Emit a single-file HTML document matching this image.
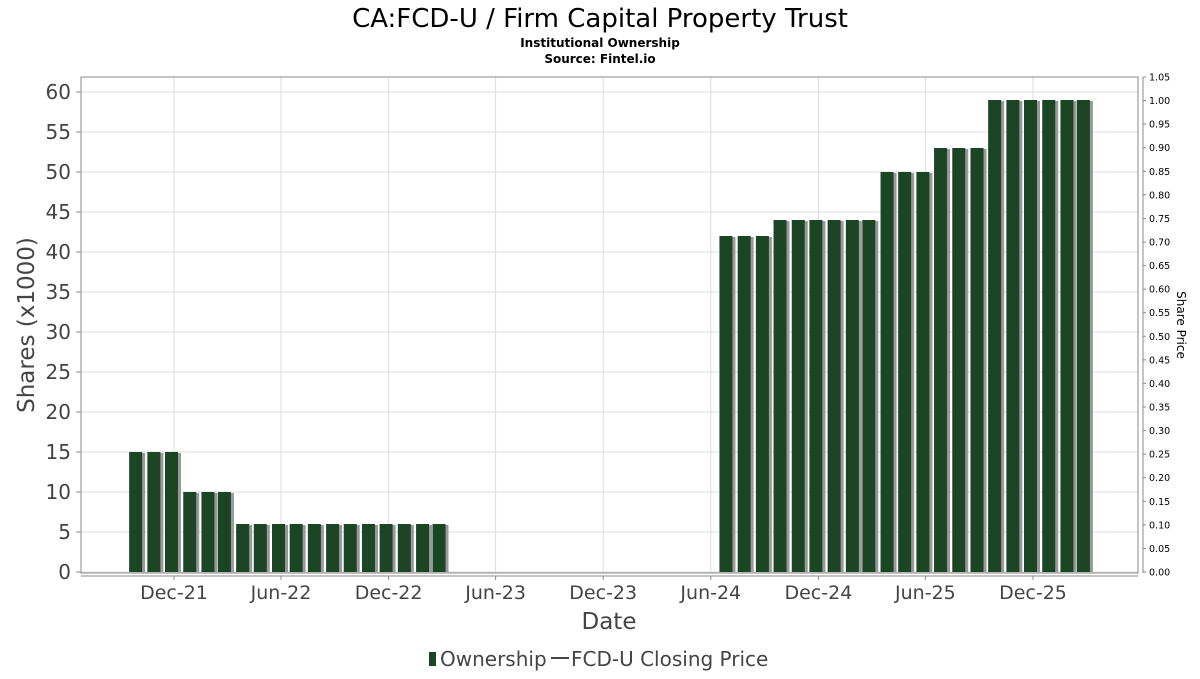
<!DOCTYPE html>
<html><head><meta charset="utf-8"><style>
body{margin:0;background:#fff;width:1200px;height:675px;overflow:hidden;font-family:"DejaVu Sans","Liberation Sans",sans-serif}
</style></head><body>
<svg id="chart" width="1200" height="675" xmlns="http://www.w3.org/2000/svg" font-family="DejaVu Sans, Liberation Sans, sans-serif">
<text x="600" y="27" text-anchor="middle" font-size="26" fill="#000">CA:FCD-U / Firm Capital Property Trust</text>
<text x="600" y="47" text-anchor="middle" font-size="12" font-weight="bold" fill="#000">Institutional Ownership</text>
<text x="600" y="63" text-anchor="middle" font-size="12" font-weight="bold" fill="#000">Source: Fintel.io</text>
<g id="grid"></g>
<g id="bars"></g>
<rect x="81" y="77" width="1057" height="496" fill="none" stroke="#888"/>
<line x1="81" y1="576" x2="1138" y2="576" stroke="#888"/>
<line x1="1143" y1="77" x2="1143" y2="573" stroke="#888"/>
<g id="axes"></g>
<text transform="translate(34,325) rotate(-90)" text-anchor="middle" font-size="23" fill="#444">Shares (x1000)</text>
<text transform="translate(1177,325) rotate(90)" text-anchor="middle" font-size="12" fill="#000">Share Price</text>
<text x="609" y="629" text-anchor="middle" font-size="23" fill="#444">Date</text>
<g>
<rect x="429" y="652" width="7" height="14" fill="#1b4524"/>
<text x="440" y="666" font-size="20" fill="#444">Ownership</text>
<line x1="551" y1="658" x2="569" y2="658" stroke="#444" stroke-width="2"/>
<text x="571" y="666" font-size="20" fill="#444">FCD-U Closing Price</text>
</g>
</svg>
<script>
const dates1 = ["2021-10-01","2021-11-01","2021-12-01","2022-01-01","2022-02-01","2022-03-01","2022-04-01","2022-05-01","2022-06-01","2022-07-01","2022-08-01","2022-09-01","2022-10-01","2022-11-01","2022-12-01","2023-01-01","2023-02-01","2023-03-01"];
const values1 = [15,15,15,10,10,10,6,6,6,6,6,6,6,6,6,6,6,6];
const dates2 = ["2024-07-01","2024-08-01","2024-09-01","2024-10-01","2024-11-01","2024-12-01","2025-01-01","2025-02-01","2025-03-01","2025-04-01","2025-05-01","2025-06-01","2025-07-01","2025-08-01","2025-09-01","2025-10-01","2025-11-01","2025-12-01","2026-01-01","2026-02-01","2026-03-01"];
const values2 = [42,42,42,44,44,44,44,44,44,50,50,50,53,53,53,59,59,59,59,59,59];
const xTickLabels = ["Dec-21","Jun-22","Dec-22","Jun-23","Dec-23","Jun-24","Dec-24","Jun-25","Dec-25"];
const xTickDates = ["2021-12-01","2022-06-01","2022-12-01","2023-06-01","2023-12-01","2024-06-01","2024-12-01","2025-06-01","2025-12-01"];
const yTicks = [0,5,10,15,20,25,30,35,40,45,50,55,60];
const y2Ticks = [0,0.05,0.1,0.15,0.2,0.25,0.3,0.35,0.4,0.45,0.5,0.55,0.6,0.65,0.7,0.75,0.8,0.85,0.9,0.95,1.0,1.05];

const NS="http://www.w3.org/2000/svg";
const t0=Date.parse("2021-12-01"), t1=Date.parse("2025-12-01");
function x(d){return 174+(Date.parse(d)-t0)/(t1-t0)*(1033-174);}
function y(v){return 572-v*8;}
function y2(v){return 572-v/1.05*495;}
function mk(tag,attrs,parent){const e=document.createElementNS(NS,tag);for(const k in attrs)e.setAttribute(k,attrs[k]);parent.appendChild(e);return e;}
const grid=document.getElementById('grid'),bars=document.getElementById('bars'),axes=document.getElementById('axes');
yTicks.forEach(v=>{
  const l=mk('line',{x1:81,x2:1138,y1:y(v),y2:y(v),stroke:'#ddd'},grid);
  
  
  const t=mk('text',{x:71,y:y(v)+7,'text-anchor':'end','font-size':20,fill:'#444'},axes);
  t.textContent=v;
  
  
  mk('line',{x1:76,x2:81,y1:y(v),y2:y(v),stroke:'#888'},axes);
});
y2Ticks.forEach(v=>{
  mk('line',{x1:1143,x2:1146,y1:y2(v),y2:y2(v),stroke:'#888'},axes);
  const t=mk('text',{x:1149,y:y2(v)+3.5,'font-size':9.5,fill:'#000'},axes);
  t.textContent=v.toFixed(2);
  
  
});
xTickDates.forEach((d,i)=>{
  const xx=x(d);
  const l=mk('line',{x1:xx,x2:xx,y1:77,y2:573,stroke:'#ddd'},grid);
  
  
  mk('line',{x1:xx,x2:xx,y1:576,y2:580,stroke:'#888'},axes);
  const t=mk('text',{x:xx,y:599,'text-anchor':'middle','font-size':19,fill:'#444'},axes);
  t.textContent=xTickLabels[i];
  
  
});
function drawBars(ds,vs){
  ds.forEach((d,i)=>{
    const cx=x(d), top=y(vs[i]);
    const s=mk('rect',{x:cx-6,y:top+1,width:13,height:572-top-1,fill:'#999'},bars);
    
    
    const b=mk('rect',{x:cx-9,y:top,width:13,height:572-top,fill:'#1b4524'},bars);
    
    
  });
}
drawBars(dates1,values1);
drawBars(dates2,values2);
</script>
</body></html>
